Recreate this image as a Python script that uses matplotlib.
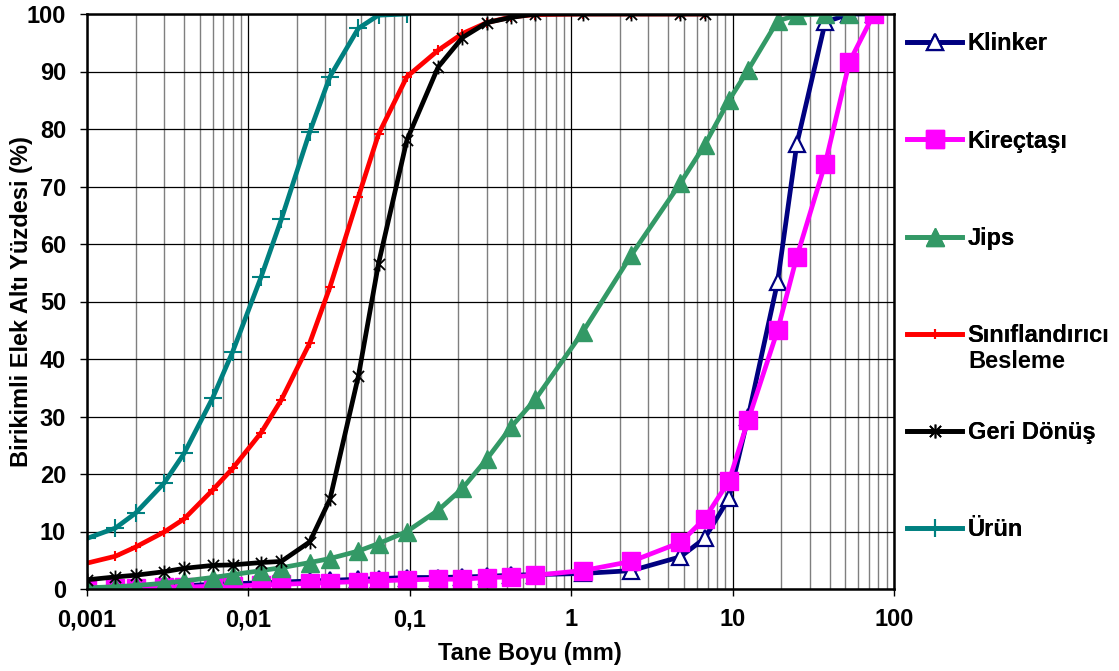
import matplotlib

matplotlib.use("Agg")
import matplotlib.pyplot as plt
from matplotlib.path import Path
from matplotlib.ticker import FixedLocator, LogLocator, NullFormatter

plt.rcParams["font.family"] = ["Liberation Sans", "DejaVu Sans"]
plt.rcParams["font.weight"] = "bold"

# particle sizes (mm): laser sizer range, then sieve sizes
laser_sizes = [0.001, 0.0015, 0.002, 0.003, 0.004, 0.006, 0.008,
               0.012, 0.016, 0.024, 0.032, 0.048, 0.064, 0.096]
sieve_sizes = [0.15, 0.212, 0.3, 0.425, 0.6, 1.18, 2.36, 4.75, 6.7,
               9.5, 12.5, 19, 25, 37.5, 53, 75]

klinker = [0.2, 0.3, 0.4, 0.5, 0.6, 0.8, 0.9, 1.1, 1.2, 1.4, 1.5, 1.7, 1.8, 2.0,
           2.0, 2.1, 2.2, 2.4, 2.5, 2.7, 3.2, 5.6, 8.8, 15.8, 30.0, 53.4, 77.4,
           98.6, 100, 100]
kirectasi = [0.0, 0.1, 0.2, 0.3, 0.3, 0.5, 0.5, 0.7, 0.8, 1.0, 1.1, 1.3, 1.4, 1.6,
             1.7, 1.7, 2.0, 2.1, 2.4, 3.2, 4.8, 8.1, 12.2, 18.8, 29.4, 45.0, 57.8,
             74.0, 91.7, 100]
jips = [0.2, 0.4, 0.6, 1.0, 1.4, 2.0, 2.5, 3.2, 3.7, 4.6, 5.3, 6.6, 7.9, 10.0,
        13.7, 17.5, 22.6, 28.2, 33.0, 44.7, 58.1, 70.6, 77.2, 85.0, 90.3, 98.8,
        99.8, 100, 100]
besleme = [4.5, 5.7, 7.3, 9.9, 12.2, 17.2, 21.0, 27.2, 32.9, 42.8, 52.5, 68.2,
           79.1, 89.1, 93.7, 96.6, 98.5, 99.5, 99.9, 100, 100, 100, 100]
geri_donus = [1.6, 2.1, 2.4, 3.0, 3.6, 4.1, 4.2, 4.6, 4.8, 8.2, 15.6, 37.0, 56.6,
              78.1, 90.8, 95.9, 98.5, 99.4, 100, 100, 100, 100, 100]
urun = [8.8, 10.6, 13.2, 18.4, 23.6, 33.2, 41.3, 54.3, 64.3, 79.5, 89.1, 97.5,
        99.8, 100]

x_ticks = [0.001, 0.01, 0.1, 1, 10, 100]
x_tick_labels = ["0,001", "0,01", "0,1", "1", "10", "100"]
y_ticks = list(range(0, 101, 10))

# excel style asterisk: an x with a vertical bar
asterisk = Path(
    [(-0.8, -0.8), (0.8, 0.8), (-0.8, 0.8), (0.8, -0.8), (0, -1), (0, 1)],
    [Path.MOVETO, Path.LINETO, Path.MOVETO, Path.LINETO, Path.MOVETO, Path.LINETO],
)

all_sizes = laser_sizes + sieve_sizes
series = [
    ("Klinker", all_sizes[:len(klinker)], klinker,
     dict(color="#000080", marker="^", ms=12, mfc="white", mec="#000080", mew=1.6)),
    ("Kireçtaşı", all_sizes[:len(kirectasi)], kirectasi,
     dict(color="#FF00FF", marker="s", ms=13, mfc="#FF00FF", mec="#FF00FF")),
    ("Jips", all_sizes[:len(jips)], jips,
     dict(color="#339966", marker="^", ms=13, mfc="#339966", mec="#339966")),
    ("Sınıflandırıcı", all_sizes[:len(besleme)], besleme,
     dict(color="#FF0000", marker="+", ms=7, mew=1.5)),
    ("Geri Dönüş", all_sizes[:len(geri_donus)], geri_donus,
     dict(color="black", marker=asterisk, ms=10, mew=1.3)),
    ("Ürün", all_sizes[:len(urun)], urun,
     dict(color="#008080", marker="+", ms=13, mew=1.5)),
]

fig = plt.figure(figsize=(11.19, 6.71), dpi=100)
ax = fig.add_axes([87 / 1119, 1 - 589 / 671, 807 / 1119, 575 / 671])

handles = []
for label, xs, ys, style in series:
    line, = ax.plot(xs, ys, lw=3.4, label=label, **style)
    handles.append(line)

ax.set_xscale("log")
ax.set_xlim(0.001, 100)
ax.set_ylim(0, 100)
ax.xaxis.set_major_locator(FixedLocator(x_ticks))
ax.set_xticklabels(x_tick_labels)
ax.xaxis.set_minor_locator(LogLocator(base=10, subs=range(2, 10), numticks=50))
ax.xaxis.set_minor_formatter(NullFormatter())
ax.set_yticks(y_ticks)

ax.grid(True, which="major", axis="both", color="black", lw=0.9)
ax.grid(True, which="minor", axis="x", color="#7f7f7f", lw=1.0)
ax.set_axisbelow(True)

for sp in ax.spines.values():
    sp.set_linewidth(1.8)
ax.tick_params(axis="both", which="major", direction="out", length=5, width=1,
               labelsize=17)
ax.tick_params(axis="y", pad=10)
ax.tick_params(axis="x", pad=9)
ax.tick_params(axis="x", which="minor", length=0)

ax.set_xlabel("Tane Boyu (mm)", fontsize=17, fontweight="bold")
ax.set_ylabel("Birikimli Elek Altı Yüzdesi (%)", fontsize=17, fontweight="bold")
ax.xaxis.set_label_coords(0.549, -0.092)
ax.yaxis.set_label_coords(-0.067, 0.5)

# one legend per entry so the rows keep an even pitch
legend_font = 17
for i, h in enumerate(handles):
    y_px = 44 + 97.2 * i
    leg = fig.legend(
        handles=[h], labels=[h.get_label()], loc="center left",
        bbox_to_anchor=(907 / 1119, 1 - y_px / 671), frameon=False,
        borderpad=0, borderaxespad=0, handlelength=2.35, handletextpad=0.22,
        prop=dict(size=legend_font, weight="bold"),
    )
    fig.add_artist(leg)
fig.text(968 / 1119, 1 - 362 / 671, "Besleme", fontsize=legend_font,
         fontweight="bold", va="center", ha="left")

fig.savefig("out.png", dpi=100)
